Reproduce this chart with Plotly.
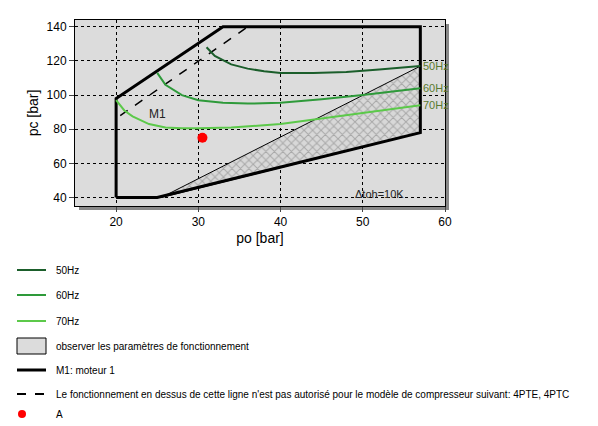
import plotly.graph_objects as go

env_x = [20, 20, 33, 57, 57, 25, 20]
env_y = [40, 98, 140, 140, 78, 40, 40]
hatch_x = [25.5, 57, 57, 25.5]
hatch_y = [40, 117, 78, 40]
dash_x = [20.5, 36]
dash_y = [88, 140]
c50_x = [31, 32, 34, 36, 38, 40, 44, 48, 52, 57]
c50_y = [128, 123, 118, 115.5, 114, 113, 113, 113.5, 115, 117]
c60_x = [25, 26, 28, 30, 33, 36, 40, 45, 50, 57]
c60_y = [113, 106, 100, 97, 95.5, 95, 95.5, 97.5, 100, 104]
c70_x = [20, 21, 22, 24, 26, 28, 30, 34, 40, 48, 57]
c70_y = [97, 91, 87.5, 83, 81, 80.5, 80.5, 81, 83, 88, 94]
A_x = [30.5]
A_y = [75]
freqs = ["50Hz", "60Hz", "70Hz"]
cols = ["#1b5e2b", "#2e9a3a", "#5cc94a"]

fig = go.Figure()
fig.add_trace(go.Scatter(x=hatch_x, y=hatch_y, fill="toself", mode="lines",
    line=dict(color="black", width=1), fillcolor="rgba(0,0,0,0)",
    fillpattern=dict(shape="x", fgcolor="#777", bgcolor="#d8d8d8", size=6, solidity=0.3)))
fig.add_trace(go.Scatter(x=env_x, y=env_y, mode="lines", line=dict(color="black", width=3)))
fig.add_trace(go.Scatter(x=dash_x, y=dash_y, mode="lines", line=dict(color="black", width=1.5, dash="dash")))
for cx, cy, c, f in [(c50_x, c50_y, cols[0], freqs[0]), (c60_x, c60_y, cols[1], freqs[1]), (c70_x, c70_y, cols[2], freqs[2])]:
    fig.add_trace(go.Scatter(x=cx, y=cy, mode="lines", line=dict(color=c, width=2)))
    fig.add_annotation(x=cx[-1], y=cy[-1], text=f, showarrow=False, xanchor="left", xshift=1,
                       font=dict(color="#5a7a30", size=11))
fig.add_trace(go.Scatter(x=A_x, y=A_y, mode="markers", marker=dict(color="red", size=10)))
fig.add_annotation(x=25, y=89, text="M1", showarrow=False, font=dict(size=12, color="#222"))
fig.add_annotation(x=52, y=42, text="Δtoh=10K", showarrow=False, font=dict(size=11, color="#222"))

H = 186.0
def py(p):
    return (198 - p) / H
def px(p):
    return (p - 67) / 370.0

items = [
    (262, "line", cols[0], "50Hz"),
    (287, "line", cols[1], "60Hz"),
    (313, "line", cols[2], "70Hz"),
    (338, "hatch", None, "observer les paramètres de fonctionnement"),
    (362, "thick", "black", "M1: moteur 1"),
    (386, "dash", "black", "Le fonctionnement en dessus de cette ligne n'est pas autorisé pour le modèle de compresseur suivant: 4PTE, 4PTC"),
    (406, "dot", "red", "A"),
]
shapes = [
    dict(type="rect", xref="paper", yref="paper", x0=px(71), x1=px(441), y0=py(202), y1=py(16),
         fillcolor="#888", line=dict(width=0), layer="below"),
    dict(type="rect", xref="paper", yref="paper", x0=0, x1=1, y0=0, y1=1,
         fillcolor="#dcdcdc", line=dict(width=0), layer="below"),
]
for yy, kind, c, t in items:
    if kind == "line":
        shapes.append(dict(type="line", xref="paper", yref="paper", x0=px(9), x1=px(38), y0=py(yy), y1=py(yy), line=dict(color=c, width=2)))
    elif kind == "thick":
        shapes.append(dict(type="line", xref="paper", yref="paper", x0=px(9), x1=px(38), y0=py(yy), y1=py(yy), line=dict(color=c, width=3)))
    elif kind == "dash":
        shapes.append(dict(type="line", xref="paper", yref="paper", x0=px(9), x1=px(38), y0=py(yy), y1=py(yy), line=dict(color=c, width=2, dash="dash")))
    elif kind == "hatch":
        shapes.append(dict(type="rect", xref="paper", yref="paper", x0=px(9), x1=px(38), y0=py(yy + 8), y1=py(yy - 8), line=dict(color="black", width=1), fillcolor="#dcdcdc"))
    elif kind == "dot":
        shapes.append(dict(type="circle", xref="paper", yref="paper", x0=px(10), x1=px(18), y0=py(yy + 4), y1=py(yy - 4), line=dict(color="red", width=0), fillcolor="red"))
    fig.add_annotation(xref="paper", yref="paper", x=px(46), y=py(yy), yanchor="middle", text=t, showarrow=False, xanchor="left",
                       font=dict(size=10, color="black"))
fig.update_layout(shapes=shapes)

fig.update_layout(
    width=598, height=426, showlegend=False,
    margin=dict(l=67, r=161, t=12, b=228),
    paper_bgcolor="white", plot_bgcolor="rgba(0,0,0,0)",
    font=dict(family="Liberation Sans, Arial", size=12, color="black"),
    xaxis=dict(range=[15, 60], tickvals=[20, 30, 40, 50, 60], showgrid=True, gridcolor="black", griddash="dot",
               gridwidth=1, zeroline=False, showline=True, linecolor="black", mirror=True, ticks="outside",
               title=dict(text="po [bar]", standoff=4, font=dict(size=14))),
    yaxis=dict(range=[35, 144], tickvals=[40, 60, 80, 100, 120, 140], showgrid=True, gridcolor="black", griddash="dot",
               gridwidth=1, zeroline=False, showline=True, linecolor="black", mirror=True, ticks="outside",
               title=dict(text="pc [bar]", standoff=4, font=dict(size=14))),
)
fig.write_html("out.html")
